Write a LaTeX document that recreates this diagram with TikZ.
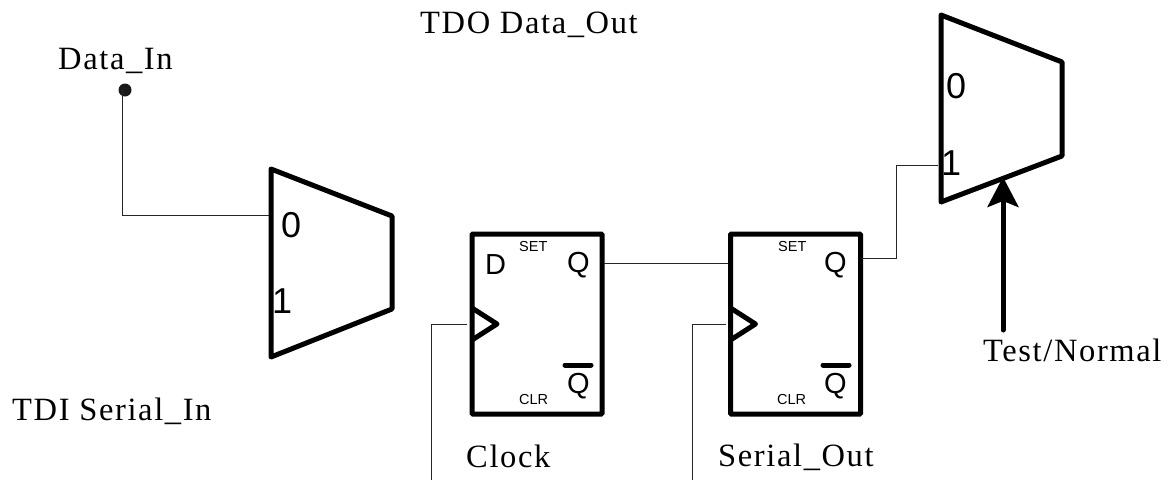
\documentclass[tikz,border=0pt]{standalone}
\usepackage{fontspec}
\setmainfont{Liberation Serif}[LetterSpace=5]
\setsansfont{Liberation Sans}
\usetikzlibrary{positioning, calc}
\usetikzlibrary{arrows.meta}
\tikzstyle{signal}=[anchor=base west,inner sep=0pt,font=\fontsize{32.5}{34}\selectfont]
\tikzstyle{pinlabel}=[anchor=base west,inner sep=0pt,font=\sffamily\fontsize{36}{38}\selectfont]
\tikzstyle{gatepin}=[anchor=base west,inner sep=0pt,font=\sffamily\fontsize{29}{31}\selectfont]
\tikzstyle{tinylabel}=[anchor=base west,inner sep=0pt,font=\addfontfeature{LetterSpace=5}\sffamily\fontsize{14.5}{16}\selectfont]
\tikzstyle{flipflop}=[draw=black,line width=5pt,rounded corners=1pt,minimum width=130pt,minimum height=180pt,outer sep=0pt,inner sep=0pt]
\tikzstyle{muxbody}=[draw=black,line width=5pt,line join=round]
\tikzstyle{wirepath}=[black!85,line width=1pt]
\tikzstyle{overbar}=[line width=5pt,line cap=round]

\begin{document}
\begin{tikzpicture}[x=1pt,y=-1pt]
        \useasboundingbox (0,0) rectangle (1170,480);
        
        % multiplexers
        \coordinate (m1a) at (271,169);
        \coordinate (m1b) at (392,216);
        \coordinate (m1c) at (392,309);
        \coordinate (m1d) at (271,357);
        \coordinate (m2a) at (941,15);
        \coordinate (m2b) at (1062,62);
        \coordinate (m2c) at (1062,156);
        \coordinate (m2d) at (941,202);
        \draw[muxbody] (m1a) -- (m1b) -- (m1c) -- (m1d) -- cycle;
        \draw[muxbody] (m2a) -- (m2b) -- (m2c) -- (m2d) -- cycle;
        \node[pinlabel] (m1zero) at (281,237) {0};
        \node[pinlabel] (m1one) at (272,313) {1};
        \node[pinlabel] (m2zero) at (946,98) {0};
        \node[pinlabel] (m2one) at (941,175) {1};
        
        % flip flops
        \node[flipflop] (ff1) at (537,324) {};
        \node[flipflop, right =128.5pt of ff1] (ff2) {};
        \draw[muxbody] ($(ff1.west)+(0,-16)$) -- ($(ff1.west)+(25,0)$) -- ($(ff1.west)+(0,16)$);
        \draw[muxbody] ($(ff2.west)+(0,-16)$) -- ($(ff2.west)+(25,0)$) -- ($(ff2.west)+(0,16)$);
        
        \node[gatepin] (d1) at (485,274) {D};
        \node[tinylabel] (set1) at (519,251) {SET};
        \node[tinylabel] (clr1) at (519,404) {CLR};
        \node[gatepin] (q1) at (567,272) {Q};
        \node[gatepin] (qn1) at (567,393) {Q};
        \draw[overbar] (565,365) -- (591,365);
        
        \node[tinylabel] (set2) at (778,251) {SET};
        \node[tinylabel] (clr2) at (777,404) {CLR};
        \node[gatepin] (q2) at (824,272) {Q};
        \node[gatepin] (qn2) at (824,393) {Q};
        \draw[overbar] (823,365) -- (849,365);
        
        % signal names
        \node[signal] (datain) at (58,69) {Data\_In};
        \node[signal] (dataout) at (420,33) {TDO Data\_Out};
        \node[signal] (serialin) at (12,420) {TDI Serial\_In};
        \node[signal] (clock) at (466,467) {Clock};
        \node[signal] (serialout) at (718,466) {Serial\_Out};
        \node[signal] (testnormal) at (983,361) {Test/Normal};
        
        \coordinate (dot) at (125,90);
        \coordinate (m1in) at (269,215);
        \coordinate (m2in) at (938,165);
        \coordinate (clkin) at (467,324.5);
        \coordinate (clkend) at (431,480);
        \coordinate (serin) at (726,324.5);
        \coordinate (serend) at (692,480);
        \coordinate (q1out) at (604,263);
        \coordinate (d2in) at (728,263);
        \coordinate (q2out) at (862,258);
        \coordinate (testend) at (1003,330);
        \coordinate (testtip) at (1003,177);
        
        \fill[black!90] (dot) circle (6.5pt);
        \draw[wirepath] (122,90) |- (m1in);
        \draw[wirepath] (clkend) |- (clkin);
        \draw[wirepath] (serend) |- (serin);
        \draw[wirepath] (q1out) -- (d2in);
        \draw[wirepath] (q2out) -| (896,165) -- (m2in);
        \draw[line width=5pt,line cap=round,-{Stealth[length=30pt,width=31pt,inset=6pt]}] (testend) -- (testtip);
    \end{tikzpicture}
\end{document}
